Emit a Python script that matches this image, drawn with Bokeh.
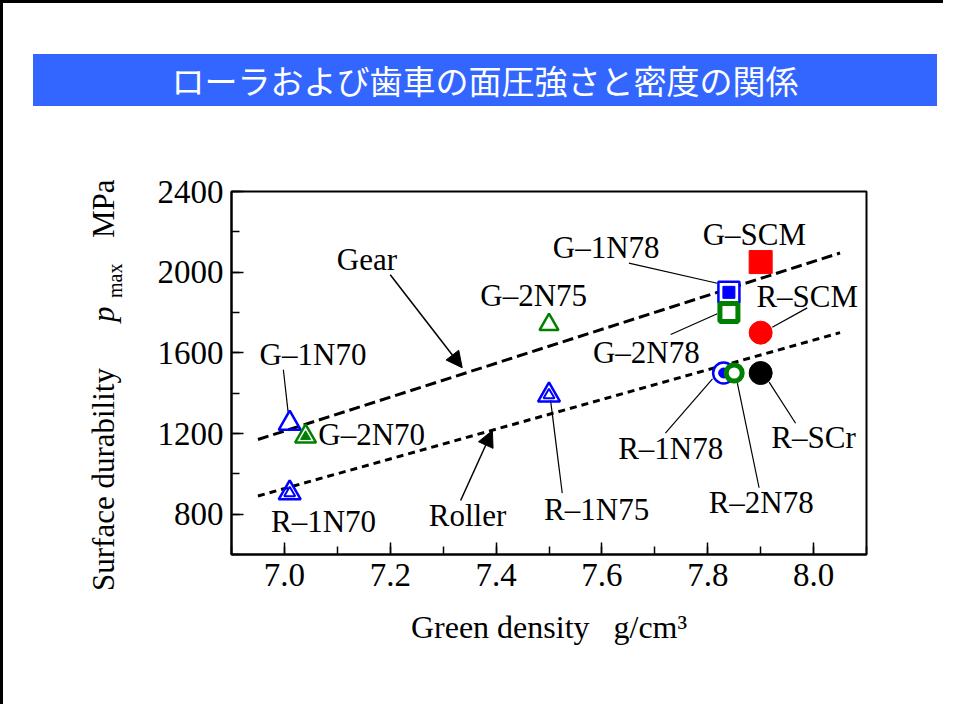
from bokeh.plotting import figure
from bokeh.layouts import column, row
from bokeh.models import (Arrow, NormalHead, Label, FixedTicker, Range1d,
                          PrintfTickFormatter, Div)
from bokeh.embed import file_html
from bokeh.resources import INLINE

# ---------------- data ----------------
samples = ["G–1N70", "G–2N70", "R–1N70", "G–2N75", "R–1N75", "G–1N78",
           "G–2N78", "G–SCM", "R–SCM", "R–1N78", "R–2N78", "R–SCr"]
density = [7.01, 7.04, 7.01, 7.50, 7.50, 7.84, 7.84, 7.90, 7.90, 7.83, 7.85, 7.90]
pmax = [1250, 1185, 905, 1740, 1390, 1900, 1800, 2050, 1700, 1500, 1500, 1500]

gear_x = [6.95, 8.05]
gear_y = [1170, 2095]
roller_x = [6.95, 8.05]
roller_y = [890, 1700]

x_ticks = [7.0, 7.2, 7.4, 7.6, 7.8, 8.0]
y_ticks = [800, 1200, 1600, 2000, 2400]

title_text = "ローラおよび歯車の面圧強さと密度の関係"
x_title = "Green density\u00a0\u00a0\u00a0g/cm³"

# ---------------- styles ----------------
BLUE, GREEN, RED, BLACK = "#0000ff", "#008000", "#ff0000", "#000000"
SERIF = "Liberation Serif"

styles = {
    "G–1N70": [("triangle", 22, BLUE, 2.5, None)],
    "G–2N70": [("triangle", 21, GREEN, 2.5, None), ("triangle", 10, GREEN, 1, GREEN)],
    "R–1N70": [("triangle", 22, BLUE, 2.5, None), ("triangle", 11, BLUE, 2, None)],
    "G–2N75": [("triangle", 19, GREEN, 2.5, None)],
    "R–1N75": [("triangle", 22, BLUE, 2.5, None), ("triangle", 11, BLUE, 2, None)],
    "G–1N78": [("square", 21, BLUE, 2.5, "white"), ("square", 12, BLUE, 1, BLUE)],
    "G–2N78": [("square", 18, GREEN, 5, "white")],
    "G–SCM": [("square", 23, RED, 1, RED)],
    "R–SCM": [("circle", 23, RED, 1, RED)],
    "R–1N78": [("circle", 21, BLUE, 2.5, "white"), ("circle", 10, BLUE, 1, BLUE)],
    "R–2N78": [("circle", 16, GREEN, 5, "white")],
    "R–SCr": [("circle", 23, BLACK, 1, BLACK)],
}

label_pos = {
    "G–1N70": (7.054, 1592), "G–2N70": (7.165, 1195), "R–1N70": (7.074, 766),
    "G–2N75": (7.471, 1882), "R–1N75": (7.590, 821), "G–1N78": (7.608, 2120),
    "G–2N78": (7.684, 1601), "G–SCM": (7.888, 2188), "R–SCM": (7.988, 1879),
    "R–1N78": (7.730, 1128), "R–2N78": (7.901, 856), "R–SCr": (8.000, 1182),
}
leaders = [
    ((6.998, 1516), (7.007, 1306)),
    ((7.525, 904), (7.503, 1365)),
    ((7.651, 2045), (7.818, 1945)),
    ((7.988, 1823), (7.922, 1727)),
    ((7.730, 1691), (7.818, 1794)),
    ((7.720, 1202), (7.809, 1471)),
    ((7.897, 931), (7.856, 1450)),
    ((7.966, 1251), (7.916, 1455)),
]

TOP_H = 106

# ---------------- title band (HTML) ----------------
band_html = (
    '<div style="position:relative; width:940px; height:%dpx;">' % TOP_H
    + '<div style="position:absolute; left:30px; top:51px; width:904px; height:52px; '
    'background:#3366ff; color:#ffffff; font-family:\'Noto Sans CJK JP\'; '
    'font-size:33px; line-height:52px; text-align:center; white-space:nowrap;">'
    + title_text + '</div></div>'
)
top = Div(text=band_html, width=940, height=TOP_H, margin=0)

# ---------------- rotated y-axis title (HTML) ----------------
def rot_piece(txt, left, top_, size, lh, italic=False):
    st = "italic" if italic else "normal"
    return ('<div style="position:absolute; left:%.1fpx; top:%.1fpx; '
            'transform-origin:0 0; transform:rotate(-90deg); white-space:nowrap; '
            'font-family:\'Liberation Serif\'; font-size:%dpx; line-height:%dpx; '
            'font-style:%s; color:#000;">%s</div>' % (left, top_, size, lh, st, txt))

dy = 103 + (TOP_H - 100)
ylab_html = ('<div style="position:relative; width:130px; height:595px;">'
             + rot_piece("Surface durability", 82.5, 591 - dy, 31, 36)
             + rot_piece("p", 82.5, 322 - dy, 31, 36, italic=True)
             + rot_piece("max", 100.3, 298 - dy, 20, 24)
             + rot_piece("MPa", 82.5, 238 - dy, 31, 36)
             + '</div>')
ylab = Div(text=ylab_html, width=130, height=595, margin=0)

# ---------------- main chart ----------------
p = figure(width=810, height=595, x_range=Range1d(6.9, 8.1), y_range=Range1d(600, 2400),
           output_backend="svg", toolbar_location=None,
           min_border_left=98, min_border_right=77,
           min_border_top=191 - dy, min_border_bottom=595 - (554 - dy))
p.grid.visible = False
p.outline_line_color = "black"
p.outline_line_width = 2

p.xaxis.ticker = FixedTicker(ticks=x_ticks,
                             minor_ticks=[round(6.9 + 0.1 * i, 2) for i in range(13)])
p.yaxis.ticker = FixedTicker(ticks=y_ticks, minor_ticks=list(range(600, 2401, 200)))
p.xaxis.formatter = PrintfTickFormatter(format="%.1f")
p.yaxis.formatter = PrintfTickFormatter(format="%d")
for ax in (p.xaxis, p.yaxis):
    ax.axis_line_width = 2
    ax.major_tick_in = 12
    ax.major_tick_out = 0
    ax.minor_tick_in = 8
    ax.minor_tick_out = 0
    ax.major_tick_line_width = 1.5
    ax.minor_tick_line_width = 1.5
    ax.major_label_text_font = SERIF
    ax.major_label_text_font_size = "33px"
    ax.major_label_text_color = "black"
p.xaxis.major_label_standoff = 9
p.yaxis.major_label_standoff = 8

p.xaxis.axis_label = x_title
p.xaxis.axis_label_text_font = SERIF
p.xaxis.axis_label_text_font_size = "32px"
p.xaxis.axis_label_text_font_style = "normal"
p.xaxis.axis_label_text_color = "black"
p.xaxis.axis_label_standoff = 20

# lines
p.line(gear_x, gear_y, line_width=3, line_color="black", line_dash="11 5")
p.line(roller_x, roller_y, line_width=3, line_color="black", line_dash="7 5")

# leaders
p.segment(x0=[a[0][0] for a in leaders], y0=[a[0][1] for a in leaders],
          x1=[a[1][0] for a in leaders], y1=[a[1][1] for a in leaders],
          line_color="black", line_width=1.2)

# markers
for name, xv, yv in zip(samples, density, pmax):
    for (mk, sz, lc, lw, fc) in styles[name]:
        p.scatter(x=[xv], y=[yv], marker=mk, size=sz, line_color=lc, line_width=lw,
                  fill_color=fc, fill_alpha=1.0 if fc else 0.0)

# arrows
p.add_layout(Arrow(end=NormalHead(size=16, fill_color="black", line_color="black"),
                   x_start=7.200, y_start=1987, x_end=7.336, y_end=1526,
                   line_width=1.5, line_color="black"))
p.add_layout(Arrow(end=NormalHead(size=16, fill_color="black", line_color="black"),
                   x_start=7.333, y_start=868, x_end=7.393, y_end=1215,
                   line_width=1.5, line_color="black"))


def add_text(x, y, t, size="31px"):
    p.add_layout(Label(x=x, y=y, text=t, text_font=SERIF, text_font_size=size,
                       text_align="center", text_baseline="middle",
                       text_color="black"))


for name in samples:
    lx, ly = label_pos[name]
    add_text(lx, ly, name)
add_text(7.156, 2065, "Gear")
add_text(7.346, 791, "Roller")

layout = column(top, row(ylab, p, spacing=0), spacing=0,
                styles={"border-left": "3px solid black", "border-top": "3px solid black"})

open("out.html", "w").write(file_html(layout, INLINE))
